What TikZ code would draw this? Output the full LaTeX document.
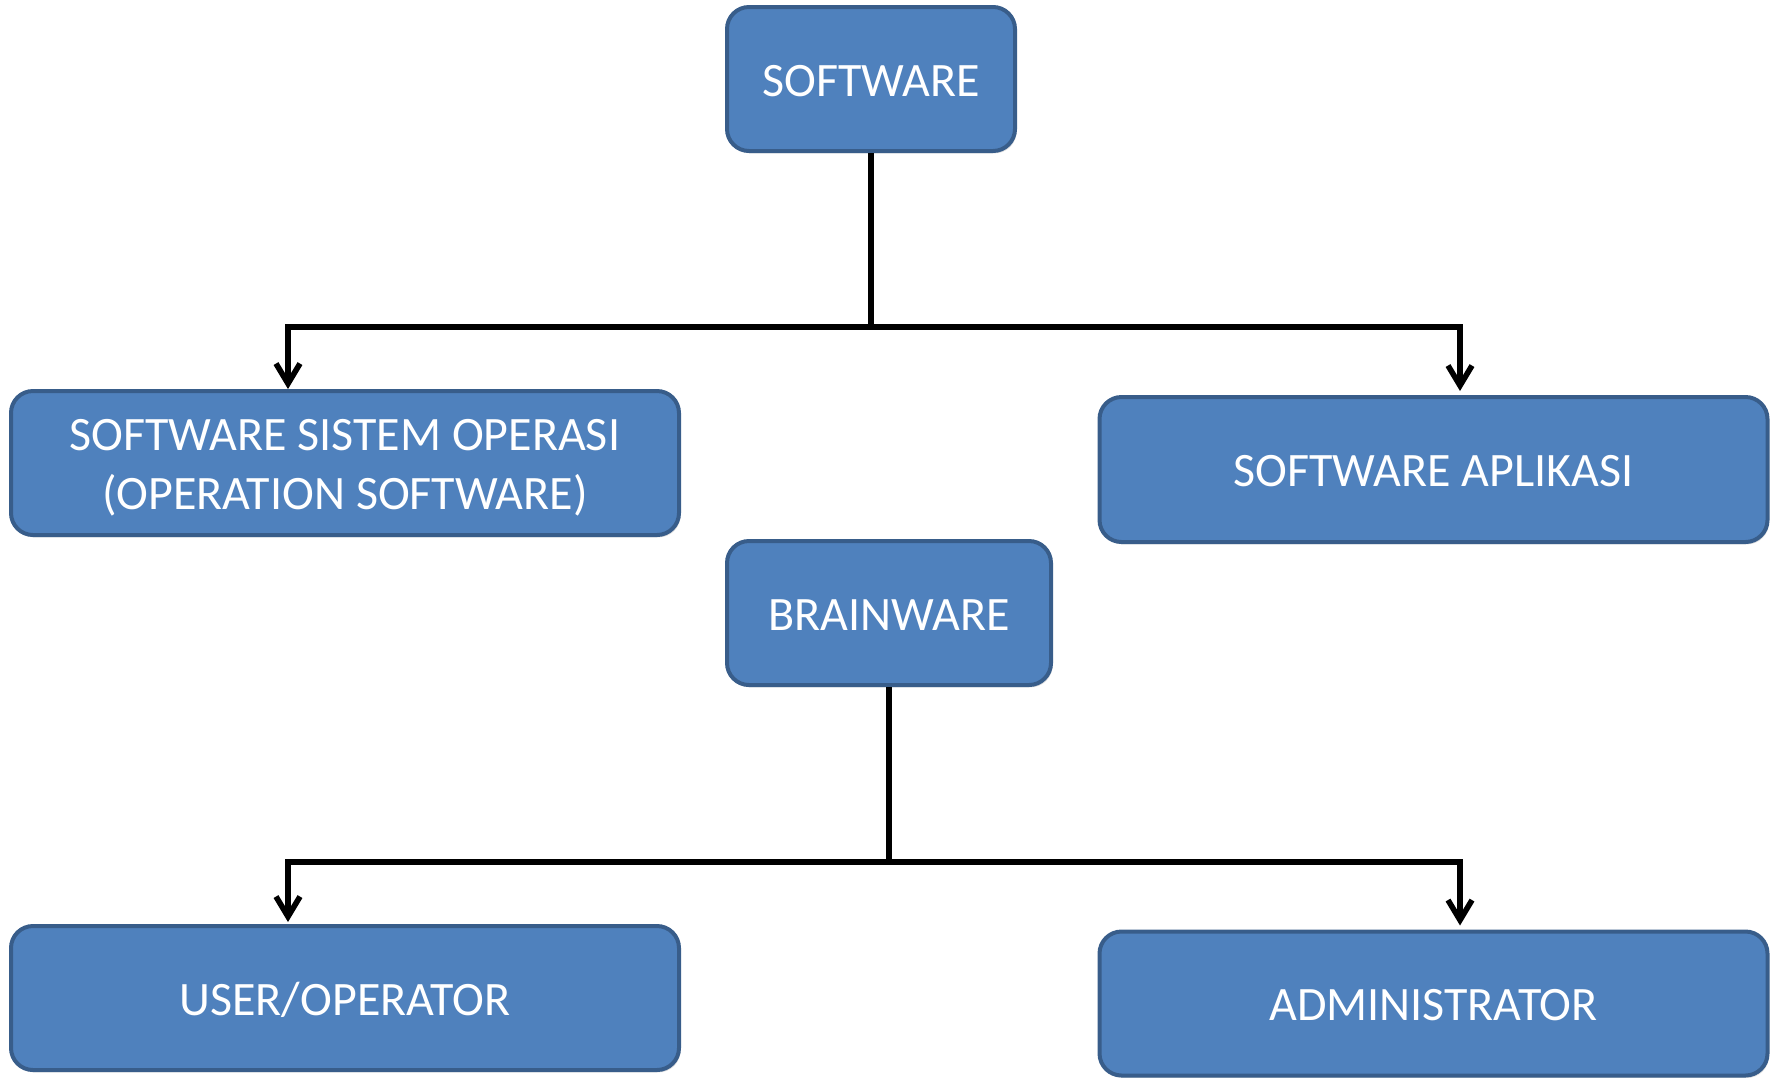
\documentclass[tikz,border=0pt]{standalone}
\usepackage{fontspec}
\setmainfont{Carlito}
\usetikzlibrary{arrows.meta,shadows}
\definecolor{boxfill}{HTML}{4F81BD}
\definecolor{boxline}{HTML}{385D8A}
\tikzset{
  box/.style={draw=boxline, fill=boxfill, line width=2pt, rounded corners=11pt,
    text=white, font=\fontsize{24}{29.5}\selectfont, align=center, inner sep=0pt,
    drop shadow={opacity=0.25, shadow xshift=0.8pt, shadow yshift=-1.2pt}},
  conn/.style={draw=black, line width=2.8pt},
  arr/.style={conn, -{Straight Barb[length=10pt,width=12pt,line width=2.8pt]}}
}
\begin{document}
\begin{tikzpicture}[x=0.5pt,y=-0.5pt]
\useasboundingbox (0,0) rectangle (1781,1078);
\node[box, minimum width=144pt, minimum height=72pt] (sw) at (871,79) {\raisebox{-0.8pt}[\height][\depth]{SOFTWARE}};
\node[box, minimum width=334pt, minimum height=72pt] (sso) at (345,463) {\raisebox{-2.5pt}[\height][\depth]{\begin{tabular}{@{}c@{}}SOFTWARE SISTEM OPERASI\\(OPERATION SOFTWARE)\end{tabular}}};
\node[box, minimum width=334pt, minimum height=72.5pt] (sa) at (1433.5,469.5) {\raisebox{-1pt}[\height][\depth]{SOFTWARE APLIKASI}};
\node[box, minimum width=162pt, minimum height=72pt] (bw) at (889,613) {\raisebox{-0.8pt}[\height][\depth]{BRAINWARE}};
\node[box, minimum width=334pt, minimum height=72pt] (us) at (345,998) {\raisebox{-1pt}[\height][\depth]{USER/OPERATOR}};
\node[box, minimum width=334pt, minimum height=72pt] (ad) at (1433.5,1003.5) {\raisebox{-1pt}[\height][\depth]{ADMINISTRATOR}};
\coordinate (l1) at (288,327);
\coordinate (r1) at (1460,327);
\coordinate (l2) at (288,862);
\coordinate (r2) at (1460,862);
\draw[conn] (sw.south) -- (sw.south |- l1);
\draw[arr] (sw.south |- l1) -| (l1 |- sso.north);
\draw[arr] (sw.south |- r1) -| ([yshift=2pt]r1 |- sa.north);
\draw[conn] (bw.south) -- (bw.south |- l2);
\draw[arr] (bw.south |- l2) -| ([yshift=1pt]l2 |- us.north);
\draw[arr] (bw.south |- r2) -| ([yshift=2pt]r2 |- ad.north);
\end{tikzpicture}
\end{document}
